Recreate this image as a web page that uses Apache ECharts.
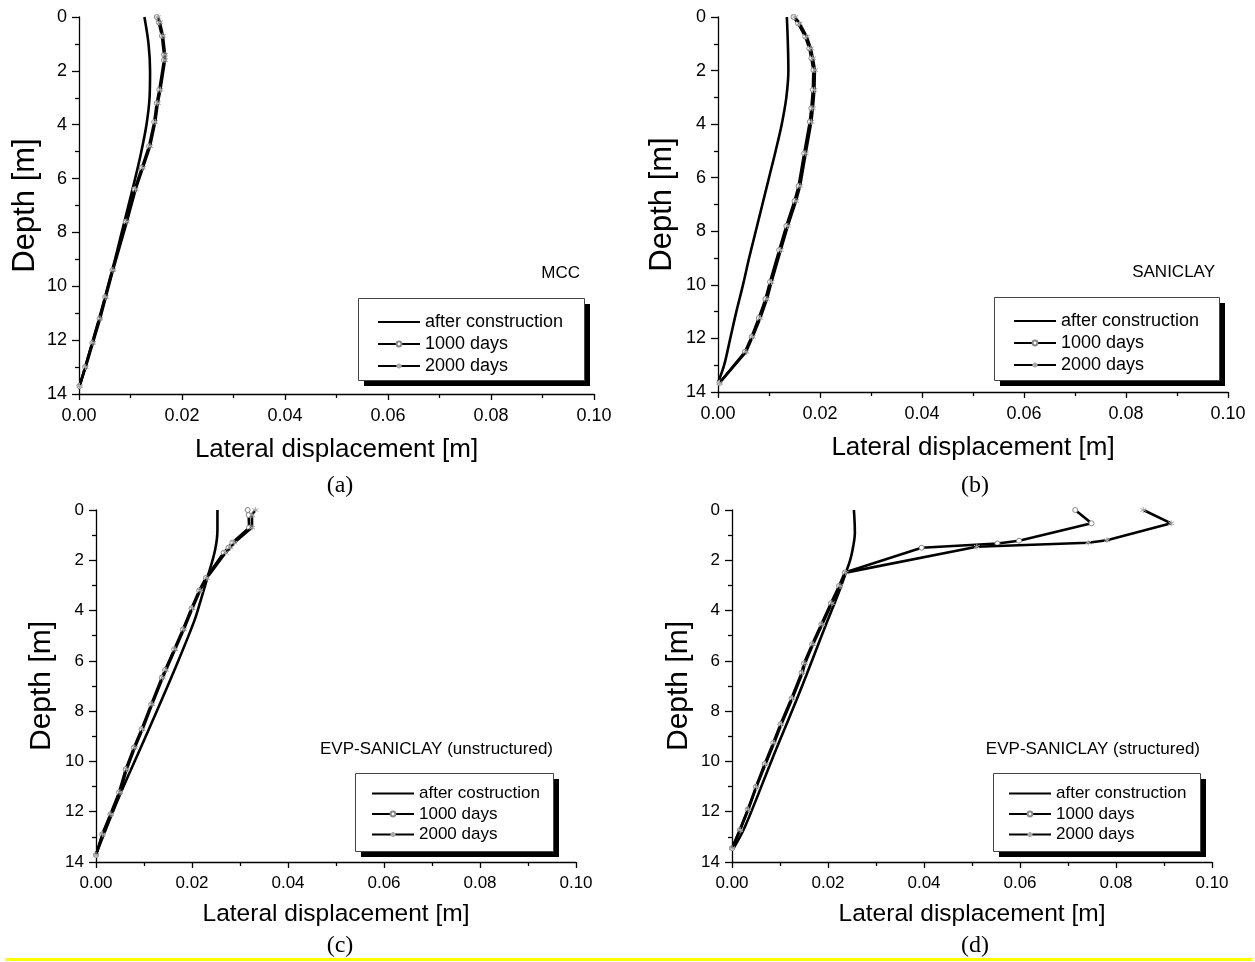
<!DOCTYPE html>
<html>
<head>
<meta charset="utf-8">
<script src="https://cdn.jsdelivr.net/npm/echarts@6/dist/echarts.min.js"></script>
<style>
  html, body { margin: 0; padding: 0; background: #fff; }
  #chart { width: 1255px; height: 962px; }
</style>
</head>
<body>
<div id="chart"></div>
<script>
// Lateral displacement profiles of the wall (depth in m, displacement in m)

// (a) MCC
const mccAfterDepth = [0, 1, 2, 3, 4, 5, 6, 7, 8, 9, 10, 11, 12, 13, 13.8];
const mccAfter      = [0.0127, 0.0135, 0.0138, 0.0137, 0.0131, 0.0121, 0.0109, 0.0096, 0.0083, 0.0070, 0.0056, 0.0042, 0.0027, 0.0012, 0.0000];
const mccNodeDepth  = [0, 0.2, 0.7, 1.4, 1.6, 2.7, 3.2, 3.9, 4.8, 5.6, 6.4, 7.6, 9.4, 10.4, 11.2, 12.1, 13.0, 13.7];
const mcc1000       = [0.0151, 0.0155, 0.0161, 0.0165, 0.0165, 0.0156, 0.0151, 0.0146, 0.0136, 0.0122, 0.0108, 0.0091, 0.0065, 0.0051, 0.0040, 0.0026, 0.0012, 0.0001];
const mcc2000       = [0.0153, 0.0157, 0.0163, 0.0167, 0.0167, 0.0158, 0.0153, 0.0148, 0.0138, 0.0124, 0.0110, 0.0093, 0.0066, 0.0052, 0.0041, 0.0027, 0.0013, 0.0001];

// (b) SANICLAY
const sanAfterDepth = [0, 1, 2, 3, 4, 5, 6, 7, 8, 9, 10, 11, 12, 13, 13.65];
const sanAfter      = [0.0135, 0.0137, 0.0138, 0.0134, 0.0125, 0.0113, 0.0100, 0.0087, 0.0074, 0.0061, 0.0049, 0.0036, 0.0024, 0.0012, 0.0000];
const sanNodeDepth  = [0, 0.24, 0.73, 1.17, 1.54, 1.98, 2.72, 3.41, 3.91, 5.09, 6.31, 6.87, 7.80, 8.70, 9.89, 10.53, 11.24, 11.94, 12.50, 13.66];
const san1000       = [0.0148, 0.0157, 0.0171, 0.0179, 0.0183, 0.0187, 0.0186, 0.0183, 0.0180, 0.0169, 0.0158, 0.0150, 0.0134, 0.0120, 0.0102, 0.0093, 0.0080, 0.0066, 0.0053, 0.0003];
const san2000       = [0.0151, 0.0160, 0.0174, 0.0182, 0.0186, 0.0190, 0.0189, 0.0186, 0.0183, 0.0172, 0.0161, 0.0153, 0.0137, 0.0123, 0.0105, 0.0096, 0.0083, 0.0068, 0.0055, 0.0003];

// (c) EVP-SANICLAY (unstructured)
const evpuAfterDepth = [0, 0.8, 1.6, 2.7, 3.6, 4.4, 6.2, 8.9, 11.5, 13.65];
const evpuAfter      = [0.0253, 0.0253, 0.0248, 0.0232, 0.0218, 0.0205, 0.0167, 0.0106, 0.0046, 0.0001];
const evpuNodeDepth  = [0, 0.2, 0.7, 1.3, 1.5, 1.7, 2.7, 3.2, 3.91, 4.75, 5.54, 6.36, 6.67, 7.73, 8.72, 9.45, 10.31, 11.23, 12.10, 12.90, 13.72];
const evpu1000       = [0.0316, 0.0318, 0.0319, 0.0284, 0.0276, 0.0266, 0.0229, 0.0215, 0.0199, 0.0181, 0.0163, 0.0144, 0.0137, 0.0115, 0.0095, 0.0079, 0.0062, 0.0048, 0.0030, 0.0013, 0.0000];
const evpu2000       = [0.0332, 0.0325, 0.0325, 0.0288, 0.0280, 0.0270, 0.0231, 0.0217, 0.0201, 0.0183, 0.0165, 0.0146, 0.0139, 0.0117, 0.0097, 0.0081, 0.0064, 0.0050, 0.0031, 0.0014, 0.0000];

// (d) EVP-SANICLAY (structured)
const evpsAfterDepth = [0, 0.9, 1.6, 2.0, 2.45, 3.3, 4.64, 7.29, 9.94, 12.6, 13.5];
const evpsAfter      = [0.0254, 0.0256, 0.0251, 0.0246, 0.0238, 0.0222, 0.0194, 0.0140, 0.0083, 0.0027, 0.0002];
const evps1000Depth  = [0, 0.53, 1.22, 1.33, 1.5, 2.49, 3.02, 3.71, 4.55, 5.34, 6.10, 6.47, 7.49, 8.52, 9.26, 10.10, 11.01, 11.91, 12.73, 13.45];
const evps1000       = [0.0715, 0.0749, 0.0598, 0.0553, 0.0395, 0.0235, 0.0223, 0.0206, 0.0186, 0.0167, 0.0150, 0.0145, 0.0124, 0.0101, 0.0086, 0.0068, 0.0050, 0.0033, 0.0016, 0.0000];
const evps2000Depth  = [0, 0.53, 1.2, 1.3, 1.46, 2.49, 3.02, 3.71, 4.55, 5.34, 6.10, 6.47, 7.49, 8.52, 9.26, 10.10, 11.01, 11.91, 12.73, 13.45];
const evps2000       = [0.0857, 0.0915, 0.0781, 0.0742, 0.0510, 0.0237, 0.0225, 0.0208, 0.0188, 0.0169, 0.0152, 0.0147, 0.0126, 0.0103, 0.0088, 0.0070, 0.0051, 0.0034, 0.0017, 0.0000];

// Axis ranges and text
const dispTicks = { min: 0, max: 0.10, step: 0.02 };
const depthTicks = { min: 0, max: 14, step: 2 };
const panelTitles = ['MCC', 'SANICLAY', 'EVP-SANICLAY (unstructured)', 'EVP-SANICLAY (structured)'];
const panelCaptions = ['(a)', '(b)', '(c)', '(d)'];
const afterNames = ['after construction', 'after construction', 'after costruction', 'after construction'];
const name1000 = '1000 days';
const name2000 = '2000 days';

const SANS = '"Liberation Sans", Arial, sans-serif';
const SERIF = '"Liberation Serif", "DejaVu Serif", serif';
const ASTERISK = 'path://M0,-5L0,5M-4.33,-2.5L4.33,2.5M-4.33,2.5L4.33,-2.5';

const pair = (depths, disps) => disps.map((d, i) => [d, depths[i]]);

// layout of the four panels
const panels = [
  { grid: { left: 79, top: 17, width: 515, height: 377 }, tick: 18, xName: 26, yName: 31, xGap: 43, yGap: 38,
    box: { x: 358, y: 298, w: 226, h: 82 }, legend: { font: 18, gap: 4, padTop: 15, padLeft: 19 },
    title: { x: 580, y: 273 }, cap: { x: 340, y: 486 } },
  { grid: { left: 718, top: 17, width: 510, height: 375 }, tick: 18, xName: 26, yName: 31, xGap: 43, yGap: 40,
    box: { x: 994, y: 297, w: 225, h: 83 }, legend: { font: 18, gap: 4, padTop: 15, padLeft: 19 },
    title: { x: 1215, y: 272 }, cap: { x: 975, y: 486 } },
  { grid: { left: 96, top: 510, width: 480, height: 352 }, tick: 17, xName: 24.5, yName: 30, xGap: 40, yGap: 39,
    box: { x: 355, y: 773, w: 198, h: 78 }, legend: { font: 17, gap: 3.5, padTop: 12, padLeft: 16 },
    title: { x: 553, y: 749 }, cap: { x: 340, y: 946 } },
  { grid: { left: 732, top: 510, width: 480, height: 352 }, tick: 17, xName: 24.5, yName: 30, xGap: 40, yGap: 38,
    box: { x: 993, y: 773, w: 207, h: 78 }, legend: { font: 17, gap: 3.5, padTop: 12, padLeft: 15 },
    title: { x: 1200, y: 749 }, cap: { x: 975, y: 946 } }
];

const seriesData = [
  [pair(mccAfterDepth, mccAfter), pair(mccNodeDepth, mcc1000), pair(mccNodeDepth, mcc2000)],
  [pair(sanAfterDepth, sanAfter), pair(sanNodeDepth, san1000), pair(sanNodeDepth, san2000)],
  [pair(evpuAfterDepth, evpuAfter), pair(evpuNodeDepth, evpu1000), pair(evpuNodeDepth, evpu2000)],
  [pair(evpsAfterDepth, evpsAfter), pair(evps1000Depth, evps1000), pair(evps2000Depth, evps2000)]
];

const grids = [], xAxes = [], yAxes = [], series = [], legends = [], graphics = [];

panels.forEach((p, i) => {
  grids.push(Object.assign({ containLabel: false }, p.grid));
  xAxes.push({
    gridIndex: i, type: 'value', min: dispTicks.min, max: dispTicks.max, interval: dispTicks.step,
    name: 'Lateral displacement [m]', nameLocation: 'middle', nameGap: p.xGap,
    nameTextStyle: { fontFamily: SANS, fontSize: p.xName, color: '#000' },
    axisLine: { onZero: false, lineStyle: { color: '#000', width: 1.3 } },
    axisTick: { inside: false, length: 6, lineStyle: { color: '#000', width: 1.3 } },
    minorTick: { show: true, splitNumber: 2, length: 4, lineStyle: { color: '#000', width: 1.3 } },
    axisLabel: { fontFamily: SANS, fontSize: p.tick, color: '#000', margin: 13, formatter: v => v.toFixed(2) },
    splitLine: { show: false }
  });
  yAxes.push({
    gridIndex: i, type: 'value', inverse: true, min: depthTicks.min, max: depthTicks.max, interval: depthTicks.step,
    name: 'Depth [m]', nameLocation: 'middle', nameRotate: 90, nameGap: p.yGap,
    nameTextStyle: { fontFamily: SANS, fontSize: p.yName, color: '#000' },
    axisLine: { onZero: false, lineStyle: { color: '#000', width: 1.3 } },
    axisTick: { inside: false, length: 7, lineStyle: { color: '#000', width: 1.3 } },
    minorTick: { show: true, splitNumber: 2, length: 4, lineStyle: { color: '#000', width: 1.3 } },
    axisLabel: { fontFamily: SANS, fontSize: p.tick, color: '#000', margin: 12 },
    splitLine: { show: false }
  });

  const [after, d1000, d2000] = seriesData[i];
  series.push({
    name: afterNames[i], type: 'line', xAxisIndex: i, yAxisIndex: i, data: after,
    smooth: 0.35, symbol: 'none',
    lineStyle: { color: '#000', width: 2.6 }, itemStyle: { color: '#000' }, z: 3
  });
  series.push({
    name: name1000, type: 'line', xAxisIndex: i, yAxisIndex: i, data: d1000,
    symbol: 'circle', symbolSize: 5,
    lineStyle: { color: '#000', width: 2.6 },
    itemStyle: { color: '#fff', borderColor: '#888', borderWidth: 1 }, z: 4
  });
  series.push({
    name: name2000, type: 'line', xAxisIndex: i, yAxisIndex: i, data: d2000,
    symbol: ASTERISK, symbolSize: 6,
    lineStyle: { color: '#000', width: 2.6 },
    itemStyle: { color: '#aaa', borderColor: '#aaa', borderWidth: 1 }, z: 5
  });

  // legend frame with a solid drop shadow
  const b = p.box;
  graphics.push({ type: 'rect', z: 10, shape: { x: b.x + 6, y: b.y + 6, width: b.w, height: b.h }, style: { fill: '#000' } });
  graphics.push({ type: 'rect', z: 11, shape: { x: b.x + 0.5, y: b.y + 0.5, width: b.w, height: b.h },
    style: { fill: '#fff', stroke: '#444', lineWidth: 1 } });

  const L = p.legend;
  legends.push({
    orient: 'vertical', left: b.x + L.padLeft, top: b.y + L.padTop, padding: 0, itemGap: L.gap,
    itemWidth: 42, itemHeight: 6, selectedMode: false, z: 12,
    textStyle: { fontFamily: SANS, fontSize: L.font, lineHeight: L.font, color: '#000' },
    data: [{ name: afterNames[i], itemStyle: { opacity: 0 } }, name1000, name2000]
  });

  graphics.push({
    type: 'text', x: p.title.x, y: p.title.y,
    style: { text: panelTitles[i], fontFamily: SANS, fontSize: 17, fill: '#000', align: 'right', verticalAlign: 'middle' }
  });
  graphics.push({
    type: 'text', x: p.cap.x, y: p.cap.y,
    style: { text: panelCaptions[i], fontFamily: SERIF, fontSize: 24, fill: '#000', align: 'center', verticalAlign: 'middle' }
  });
});

// highlight rule along the bottom edge
graphics.push({ type: 'rect', shape: { x: 5, y: 958, width: 1247, height: 3 }, style: { fill: '#ffff00' } });

const chart = echarts.init(document.getElementById('chart'), null, { renderer: 'canvas' });
chart.setOption({
  animation: false,
  backgroundColor: '#fff',
  grid: grids, xAxis: xAxes, yAxis: yAxes, series: series, legend: legends, graphic: graphics
});
</script>
</body>
</html>
